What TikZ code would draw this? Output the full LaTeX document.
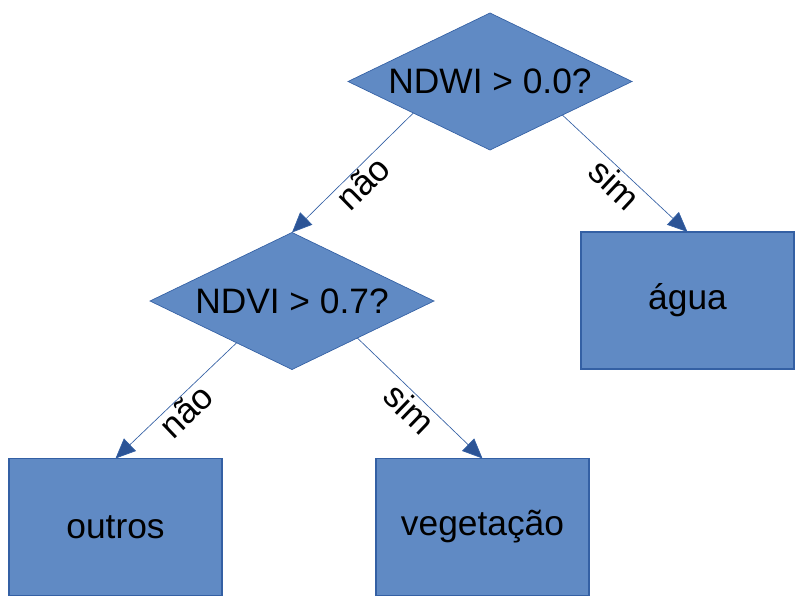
\documentclass[tikz,border=0pt]{standalone}
\usepackage{fontspec}
\setmainfont{Liberation Sans}
\usepackage{tikz}
\usetikzlibrary{calc, shapes.geometric, arrows.meta}
\definecolor{boxfill}{RGB}{96,138,196}
\definecolor{boxline}{RGB}{52,96,164}
\definecolor{tipfill}{RGB}{44,84,150}
\tikzset{every node/.append style={font=\fontsize{26.5}{30}\selectfont}}

\begin{document}
\begin{tikzpicture}[x=0.75pt, y=-0.75pt, >={Triangle[length=15pt, width=13pt, fill=tipfill]}]
    \useasboundingbox (0,0) rectangle (812,613);
    \tikzset{
        cond/.style={diamond, draw=boxline, fill=boxfill, line width=0.5pt, aspect=2.07, inner sep=0pt, outer sep=0pt, minimum width=213pt, minimum height=102.75pt},
        leaf/.style={rectangle, draw=boxline, fill=boxfill, line width=1pt, outer sep=0pt, minimum width=159.75pt, minimum height=102.75pt},
        link/.style={->, draw=boxline, line width=0.5pt},
        lab/.style={sloped, below, inner sep=1pt}
    }
    \node[cond] (ndwi) at (490,81.5) {NDWI > 0.0?};
    \node[cond] (ndvi) at (292,301) {NDVI > 0.7?};
    \node[leaf] (agua) at (687.5,300.5) {\raisebox{-2pt}{água}};
    \node[leaf] (outros) at (115.5,527) {\raisebox{-2pt}{outros}};
    \node[leaf] (veg) at (482.5,527) {\raisebox{-2pt}{vegetação}};
    \draw[link] ($(ndwi.west)!0.46!(ndwi.south)$) -- node[lab] {não} (ndvi.north);
    \draw[link] ($(ndwi.south)!0.51!(ndwi.east)$) -- node[lab] {sim} (agua.north);
    \draw[link] ($(ndvi.west)!0.61!(ndvi.south)$) -- node[lab] {não} (outros.north);
    \draw[link] ($(ndvi.south)!0.46!(ndvi.east)$) -- node[lab] {sim} (veg.north);
\end{tikzpicture}
\end{document}
